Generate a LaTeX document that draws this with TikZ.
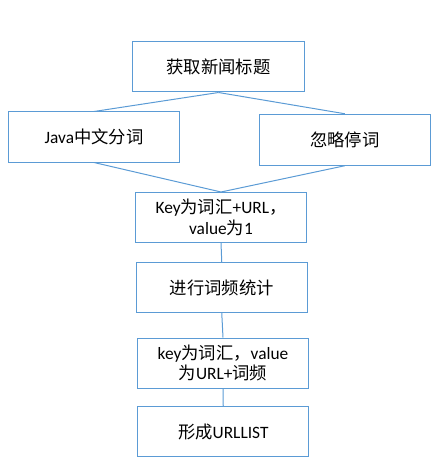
\documentclass[tikz,border=0pt]{standalone}
\usepackage{fontspec}
\setmainfont{Carlito}
\newfontfamily\cjk{Noto Sans CJK SC}
\usepackage{tikz}

\definecolor{boxblue}{RGB}{91,155,213}

\begin{document}
\begin{tikzpicture}[x=0.75pt,y=0.75pt,yscale=-1,xscale=1,
  box/.style={draw=boxblue,line width=0.75pt,minimum width=128.5pt,minimum height=37.5pt,inner sep=0.75pt,align=center,font=\fontsize{13}{15.5}\selectfont},
  link/.style={draw=boxblue,line width=0.75pt}]
%set diagram size 444 x 474
\useasboundingbox (0,0) rectangle (444,474);

%Shape: Rectangle [id:title]
\node [box] (title) at (218.5,67) {{\cjk 获取新闻标题}};
%Shape: Rectangle [id:seg]
\node [box] (seg) at (94,137) {Java{\cjk 中文分词}};
%Shape: Rectangle [id:stop]
\node [box,minimum height=38.25pt] (stop) at (344.75,139.75) {{\cjk 忽略停词}};
%Shape: Rectangle [id:keyurl]
\node [box] (keyurl) at (221,217.5) {Key{\cjk 为词汇}+URL{\cjk ，}\\value{\cjk 为}1};
%Shape: Rectangle [id:count]
\node [box] (count) at (221.75,287.5) {{\cjk 进行词频统计}};
%Shape: Rectangle [id:keyword]
\node [box] (keyword) at (223,363) {key{\cjk 为词汇，}value\\{\cjk 为}URL+{\cjk 词频}};
%Shape: Rectangle [id:urllist]
\node [box] (urllist) at (223.25,431.5) {{\cjk 形成}URLLIST};

%Straight Lines
\draw [link] (title.south) -- (seg.north) ;
\draw [link] (title.south) -- (stop.north) ;
\draw [link] (seg.south) -- (keyurl.north) ;
\draw [link] (stop.south) -- (keyurl.north) ;
\draw [link] (keyurl.south) -- (count.north) ;
\draw [link] (count.south) -- (keyword.north) ;
\draw [link] (keyword.south) -- (urllist.north) ;

\end{tikzpicture}
\end{document}
